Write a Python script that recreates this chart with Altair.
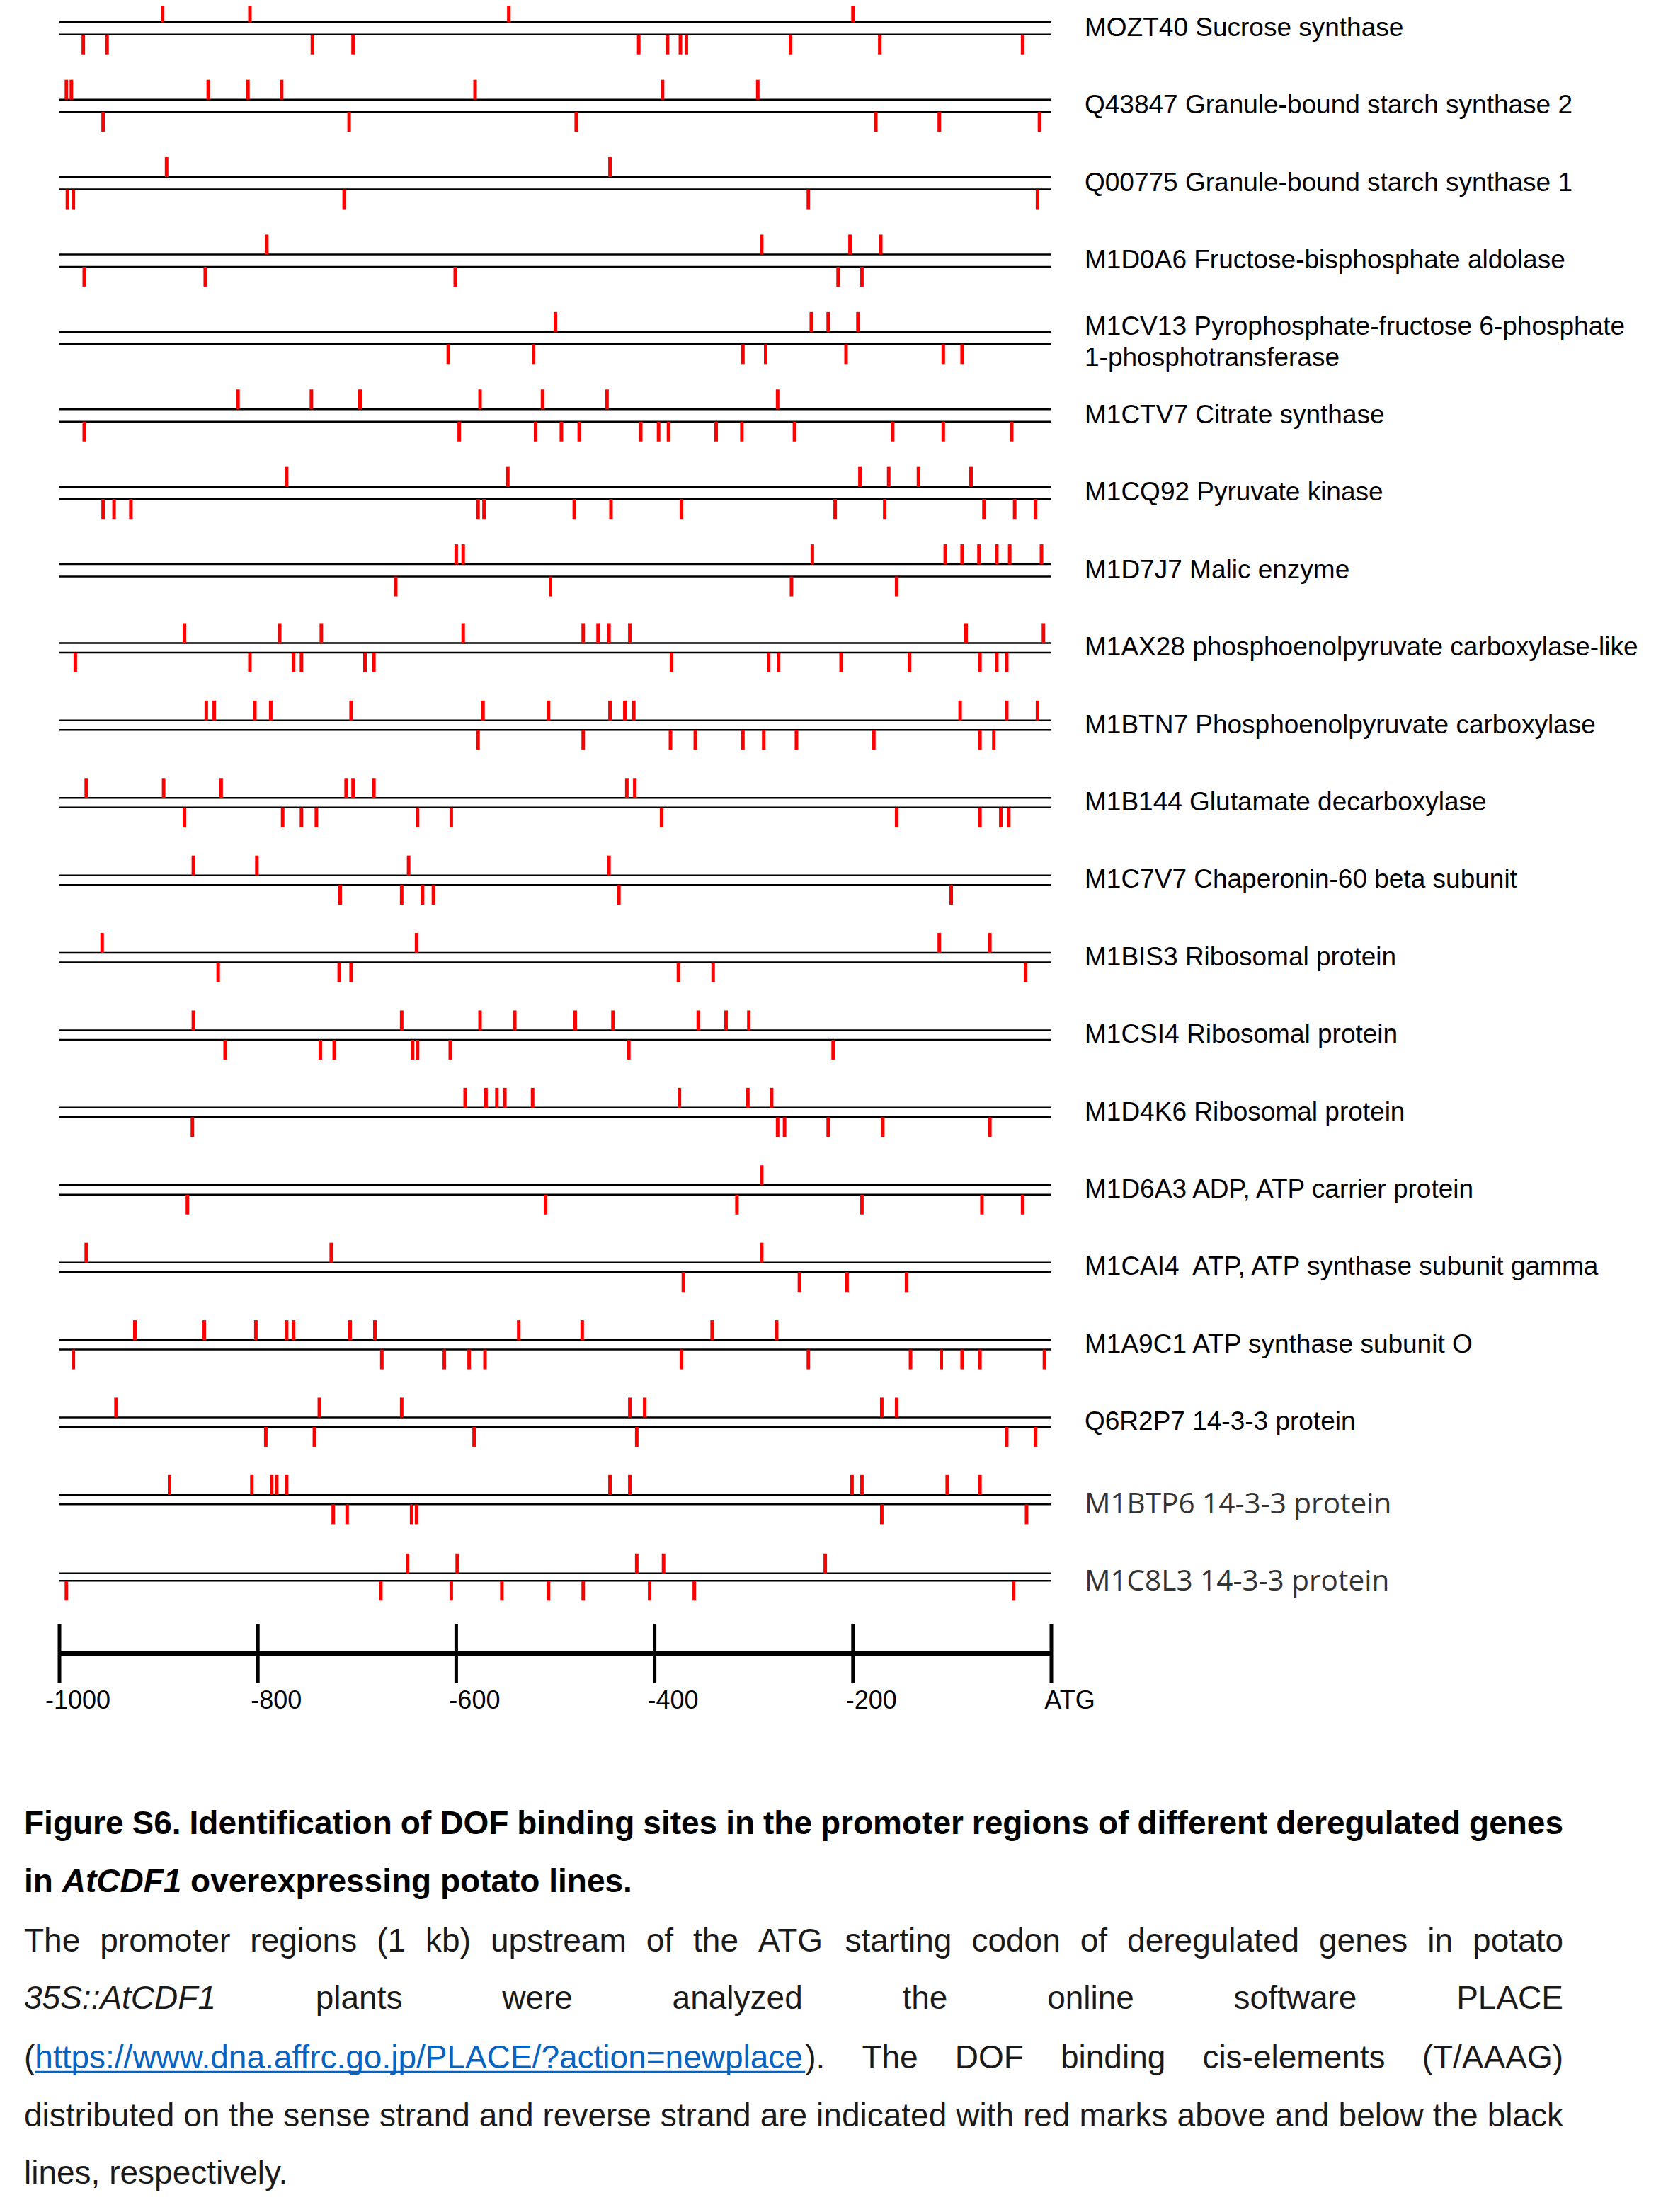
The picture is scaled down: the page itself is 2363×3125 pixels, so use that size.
import altair as alt
import pandas as pd

# ---------------- data ----------------
gene_labels = [
    "MOZT40 Sucrose synthase",
    "Q43847 Granule-bound starch synthase 2",
    "Q00775 Granule-bound starch synthase 1",
    "M1D0A6 Fructose-bisphosphate aldolase",
    "M1CV13 Pyrophosphate-fructose 6-phosphate\n1-phosphotransferase",
    "M1CTV7 Citrate synthase",
    "M1CQ92 Pyruvate kinase",
    "M1D7J7 Malic enzyme",
    "M1AX28 phosphoenolpyruvate carboxylase-like",
    "M1BTN7 Phosphoenolpyruvate carboxylase",
    "M1B144 Glutamate decarboxylase",
    "M1C7V7 Chaperonin-60 beta subunit",
    "M1BIS3 Ribosomal protein",
    "M1CSI4 Ribosomal protein",
    "M1D4K6 Ribosomal protein",
    "M1D6A3 ADP, ATP carrier protein",
    "M1CAI4\u00a0 ATP, ATP synthase subunit gamma",
    "M1A9C1 ATP synthase subunit O",
    "Q6R2P7 14-3-3 protein",
    "M1BTP6 14-3-3 protein",
    "M1C8L3 14-3-3 protein",
]

# DOF sites (position relative to ATG) on the sense strand (above the line)
sense_sites = [
    [-896, -808, -547, -200],
    [-993, -988, -850, -810, -776, -581, -392, -296],
    [-892, -445],
    [-791, -292, -203, -172],
    [-500, -242, -225, -195],
    [-820, -746, -697, -576, -513, -448, -276],
    [-771, -548, -193, -164, -134, -81],
    [-600, -593, -241, -107, -90, -73, -55, -42, -10],
    [-874, -778, -736, -593, -472, -457, -446, -425, -86, -8],
    [-852, -844, -803, -787, -706, -573, -507, -445, -430, -421, -92, -45, -14],
    [-973, -895, -837, -711, -704, -683, -428, -420],
    [-865, -801, -648, -446],
    [-957, -640, -113, -62],
    [-865, -655, -576, -541, -480, -442, -356, -328, -305],
    [-591, -570, -559, -551, -523, -375, -306, -282],
    [-292],
    [-973, -726, -292],
    [-924, -854, -802, -771, -764, -707, -682, -537, -473, -342, -277],
    [-943, -738, -655, -425, -410, -171, -156],
    [-889, -806, -786, -781, -771, -445, -425, -201, -191, -105, -72],
    [-649, -599, -418, -391, -228],
]

# DOF sites on the reverse strand (below the line)
reverse_sites = [
    [-976, -952, -745, -704, -416, -387, -374, -368, -263, -173, -29],
    [-956, -708, -479, -177, -113, -12],
    [-992, -986, -713, -245, -14],
    [-975, -853, -601, -215, -191],
    [-608, -522, -311, -288, -207, -109, -90],
    [-975, -597, -520, -494, -476, -414, -396, -386, -338, -312, -259, -160, -109, -40],
    [-956, -945, -928, -578, -572, -481, -444, -373, -218, -168, -68, -37, -16],
    [-661, -505, -262, -156],
    [-984, -808, -764, -756, -692, -683, -383, -285, -275, -212, -143, -72, -55, -45],
    [-578, -472, -384, -359, -311, -290, -257, -179, -72, -58],
    [-874, -775, -756, -741, -639, -605, -393, -156, -72, -51, -43],
    [-717, -655, -634, -623, -436, -101],
    [-840, -718, -706, -376, -341, -26],
    [-833, -737, -723, -644, -639, -606, -426, -220],
    [-866, -276, -269, -225, -170, -62],
    [-871, -510, -317, -191, -70, -29],
    [-371, -254, -206, -146],
    [-986, -675, -612, -587, -571, -373, -245, -142, -111, -90, -72, -7],
    [-792, -743, -582, -418, -45, -16],
    [-724, -710, -645, -640, -171, -25],
    [-993, -676, -605, -554, -507, -472, -405, -360, -38],
]

tick_values = [-1000, -800, -600, -400, -200, 0]
tick_labels = ["-1000", "-800", "-600", "-400", "-200", "ATG"]

title_line1 = "Figure S6. Identification of DOF binding sites in the promoter regions of different deregulated genes"
title_line2 = [("in", "b"), ("AtCDF1", "bi"), ("overexpressing potato lines.", "b")]
para_line1 = "The promoter regions (1 kb) upstream of the ATG starting codon of deregulated genes in potato"
para_line2 = [("35S::AtCDF1", "ri")] + [(w, "r") for w in "plants were analyzed the online software PLACE".split()]
url_text = "https://www.dna.affrc.go.jp/PLACE/?action=newplace"
para_line3_rest = "The DOF binding cis-elements (T/AAAG)"
para_line4 = "distributed on the sense strand and reverse strand are indicated with red marks above and below the black"
para_line5 = "lines, respectively."

# ---------------- layout ----------------
W, H = 2347, 3109
OFF = 8
X0, X1 = 84 - OFF, 1485 - OFF
MID0, PITCH = 40 - OFF, 109.4
MARK_LEN = 28
LABEL_X = 1532 - OFF
ALT_FONT_ROWS = {19, 20}


def row_gap(i):
    return 17.5 if i < 8 else (13.5 if i < 20 else 10.5)


xs = alt.Scale(domain=[-1000, 0], range=[X0, X1], nice=False, zero=False)
ys = alt.Scale(domain=[0, H], range=[0, H], nice=False, zero=False)
xp = alt.Scale(domain=[0, W], range=[0, W], nice=False, zero=False)

site_rows, line_rows, label_rows = [], [], []
for i, lab in enumerate(gene_labels):
    mid = MID0 + PITCH * i
    g = row_gap(i)
    up, lo = mid - g / 2, mid + g / 2
    line_rows += [dict(row=i, y=up, xa=-1000, xb=0), dict(row=i, y=lo, xa=-1000, xb=0)]
    for p in sense_sites[i]:
        site_rows.append(dict(row=i, strand="sense", pos=p, y=up - MARK_LEN, y2=up))
    for p in reverse_sites[i]:
        site_rows.append(dict(row=i, strand="reverse", pos=p, y=lo, y2=lo + MARK_LEN))
    parts = lab.split("\n")
    offs = [0] if len(parts) == 1 else [-16, 28]
    alt_font = i in ALT_FONT_ROWS
    for t, o in zip(parts, offs):
        label_rows.append(dict(row=i, text=t, y=mid + o + (7 if alt_font else 0),
                               fam="alt" if alt_font else "main"))

sites = pd.DataFrame(site_rows)
lines = pd.DataFrame(line_rows)
labels = pd.DataFrame(label_rows)

AXIS_Y = 2336 - OFF
axis_df = pd.DataFrame(dict(pos=tick_values, label=tick_labels,
                            y=[2295 - OFF] * 6, y2=[2377 - OFF] * 6,
                            ly=[2403 - OFF] * 6))
axis_line = pd.DataFrame(dict(xa=[-1000], xb=[0], y=[AXIS_Y]))

# ---- caption layout (justified text using Arial metrics) ----
AR = dict(zip(" !\"#$%&'()*+,-./", [278, 278, 355, 556, 556, 889, 667, 191, 333, 333, 389, 584, 278, 333, 278, 278]))
AR.update({d: 556 for d in "0123456789"})
AR.update(zip(":;<=>?@", [278, 278, 584, 584, 584, 556, 1015]))
AR.update(zip("ABCDEFGHIJKLMNOPQRSTUVWXYZ", [667, 667, 722, 722, 667, 611, 778, 722, 278, 500, 667, 556, 833, 722, 778, 667, 778, 722, 667, 611, 722, 667, 944, 667, 667, 611]))
AR.update(zip("abcdefghijklmnopqrstuvwxyz", [556, 556, 500, 556, 556, 278, 556, 556, 222, 222, 500, 222, 833, 556, 556, 556, 556, 333, 500, 278, 556, 500, 722, 500, 500, 500]))
ARB = dict(zip(" !(),-./:;?", [278, 333, 333, 333, 278, 333, 278, 278, 333, 333, 611]))
ARB.update({d: 556 for d in "0123456789"})
ARB.update(zip("ABCDEFGHIJKLMNOPQRSTUVWXYZ", [722, 722, 722, 722, 667, 611, 778, 722, 278, 556, 722, 611, 833, 722, 778, 667, 778, 722, 667, 611, 722, 667, 944, 667, 667, 611]))
ARB.update(zip("abcdefghijklmnopqrstuvwxyz", [556, 611, 556, 611, 556, 333, 611, 611, 278, 278, 556, 278, 889, 611, 611, 611, 611, 389, 556, 333, 611, 556, 778, 556, 556, 500]))

FS = 46
CL, CR = 34 - OFF, 2208 - OFF


def tw(s, style):
    tbl = ARB if style.startswith("b") else AR
    return sum(tbl.get(c, 556) for c in s) / 1000 * FS


cap = []


def place(tokens, yc, justify=True):
    # tokens: list of words; each word = list of (text, style)
    widths = [sum(tw(t, s) for t, s in tok) for tok in tokens]
    if justify and len(tokens) > 1:
        gap = (CR - CL - sum(widths)) / (len(tokens) - 1)
    else:
        gap = tw(" ", tokens[0][0][1])
    x = CL
    for tok, w in zip(tokens, widths):
        xx = x
        for t, s in tok:
            cap.append(dict(text=t, x=xx, y=yc + 15, style=s, w=tw(t, s)))
            xx += tw(t, s)
        x += w + gap


def words(s, style):
    return [[(w, style)] for w in s.split()]


place(words(title_line1, "b"), 2576 - OFF)
place([[p] for p in title_line2], 2658 - OFF, justify=False)
place(words(para_line1, "r"), 2742 - OFF)
place([[p] for p in para_line2], 2823 - OFF)
place([[("(", "r"), (url_text, "url"), (").", "r")]] + words(para_line3_rest, "r"), 2907 - OFF)
place(words(para_line4, "r"), 2989 - OFF)
place(words(para_line5, "r"), 3070 - OFF, justify=False)
caption = pd.DataFrame(cap)
url_row = caption[caption["style"] == "url"].iloc[0]
underline = pd.DataFrame(dict(xa=[url_row["x"]], xb=[url_row["x"] + url_row["w"]], y=[url_row["y"] + 5]))

FONT = "Liberation Sans, Arial, sans-serif"

# ---------------- chart ----------------
black_lines = alt.Chart(lines).mark_rule(color="black", strokeWidth=2.5).encode(
    x=alt.X("xa:Q", scale=xs, axis=None), x2="xb:Q",
    y=alt.Y("y:Q", scale=ys, axis=None))

marks = alt.Chart(sites).mark_rule(color="#FF0000", strokeWidth=5).encode(
    x=alt.X("pos:Q", scale=xs, axis=None),
    y=alt.Y("y:Q", scale=ys, axis=None), y2="y2:Q")

main_labels = alt.Chart(labels).transform_filter(alt.datum.fam == "main").mark_text(
    align="left", baseline="middle", font=FONT, fontSize=37, color="black").encode(
    x=alt.value(LABEL_X), y=alt.Y("y:Q", scale=ys, axis=None), text="text:N")

alt_labels = alt.Chart(labels).transform_filter(alt.datum.fam == "alt").mark_text(
    align="left", baseline="middle", font="Open Sans, Noto Sans, sans-serif", fontSize=40.5,
    color="#333333").encode(
    x=alt.value(LABEL_X), y=alt.Y("y:Q", scale=ys, axis=None), text="text:N")

ax_line = alt.Chart(axis_line).mark_rule(color="black", strokeWidth=6).encode(
    x=alt.X("xa:Q", scale=xs, axis=None), x2="xb:Q",
    y=alt.Y("y:Q", scale=ys, axis=None))

ax_ticks = alt.Chart(axis_df).mark_rule(color="black", strokeWidth=5).encode(
    x=alt.X("pos:Q", scale=xs, axis=None),
    y=alt.Y("y:Q", scale=ys, axis=None), y2="y2:Q")

ax_labels = alt.Chart(axis_df).mark_text(
    align="center", baseline="middle", font=FONT, fontSize=36, dx=26, color="black").encode(
    x=alt.X("pos:Q", scale=xs, axis=None),
    y=alt.Y("ly:Q", scale=ys, axis=None), text="label:N")


def cap_layer(style, weight, fstyle, color):
    return alt.Chart(caption).transform_filter(alt.datum.style == style).mark_text(
        align="left", baseline="alphabetic", font=FONT, fontSize=FS,
        fontWeight=weight, fontStyle=fstyle, color=color).encode(
        x=alt.X("x:Q", scale=xp, axis=None),
        y=alt.Y("y:Q", scale=ys, axis=None), text="text:N")


cap_layers = [
    cap_layer("b", "bold", "normal", "black"),
    cap_layer("bi", "bold", "italic", "black"),
    cap_layer("r", "normal", "normal", "#1a1a1a"),
    cap_layer("ri", "normal", "italic", "#1a1a1a"),
    cap_layer("url", "normal", "normal", "#0563C1"),
]

url_under = alt.Chart(underline).mark_rule(color="#0563C1", strokeWidth=2.5).encode(
    x=alt.X("xa:Q", scale=xp, axis=None), x2="xb:Q",
    y=alt.Y("y:Q", scale=ys, axis=None))

chart = alt.layer(
    black_lines, marks, main_labels, alt_labels, ax_line, ax_ticks, ax_labels,
    *cap_layers, url_under
).resolve_scale(x="independent").properties(
    width=W, height=H, autosize=alt.AutoSizeParams(type="none"), padding=0,
    background="white"
).configure_view(stroke=None)

chart.save("out.html", embed_options={"renderer": "svg", "actions": False})
